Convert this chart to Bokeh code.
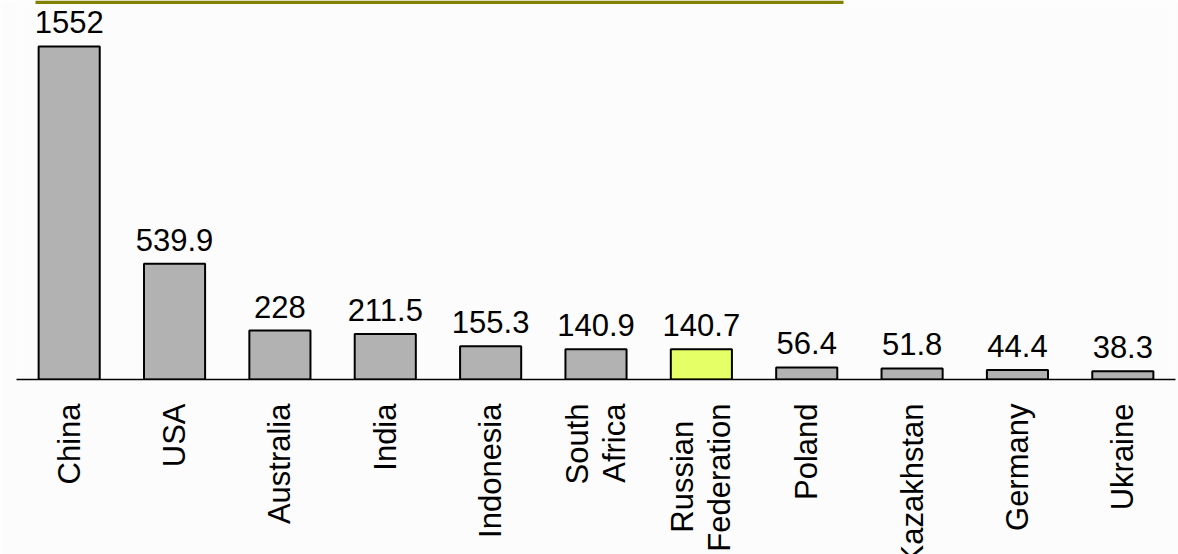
import math
from bokeh.plotting import figure
from bokeh.models import ColumnDataSource, FactorRange, Range1d, BoxAnnotation, LabelSet
from bokeh.embed import file_html
from bokeh.resources import INLINE
from bokeh.core.properties import value

# ---- data ----
NB = "\u00a0"
countries = ["China", "USA", "Australia", "India", "Indonesia", "South\nAfrica",
             "Russian" + NB * 2 + "\nFederation", "Poland", "Kazakhstan", "Germany", "Ukraine"]
production = [1552, 539.9, 228, 211.5, 155.3, 140.9, 140.7, 56.4, 51.8, 44.4, 38.3]
highlight_index = 6

GRAY = "#b2b2b2"
YELLOW = "#e5ff66"
FONT = "Liberation Sans"

src = ColumnDataSource(dict(
    country=countries,
    value=production,
    label=[f"{v:g}" for v in production],
    color=[YELLOW if i == highlight_index else GRAY for i in range(len(countries))],
))

p = figure(
    x_range=FactorRange(*countries, range_padding=0),
    y_range=Range1d(0, 1766),
    width=1178, frame_height=379,
    min_border_left=16, min_border_right=3, min_border_top=0, min_border_bottom=0,
    output_backend="svg", toolbar_location=None,
    background_fill_color="#fcfcfc", border_fill_color="#fcfcfc",
)
p.outline_line_color = None
p.xgrid.visible = False
p.ygrid.visible = False
p.yaxis.visible = False

p.vbar(x="country", top="value", width=0.58, source=src,
       fill_color="color", line_color="black", line_width=2)

p.add_layout(LabelSet(x="country", y="value", text="label", source=src,
                      text_align="center", text_baseline="alphabetic", y_offset=13,
                      text_font=value(FONT), text_font_size=value("31px"),
                      text_color="black"))

ax = p.xaxis[0]
ax.axis_line_color = "black"
ax.axis_line_width = 1.5
ax.major_tick_line_color = None
ax.minor_tick_line_color = None
ax.major_label_orientation = math.pi / 2
ax.major_label_standoff = 18
ax.major_label_text_font = FONT
ax.major_label_text_font_size = "31px"
ax.major_label_text_color = "black"
ax.major_label_text_line_height = 1.05

# olive rule at the top
p.add_layout(BoxAnnotation(left=35, right=843, top=0, bottom=3.5,
                           left_units="canvas", right_units="canvas",
                           top_units="canvas", bottom_units="canvas",
                           fill_color="#828200", fill_alpha=1, line_alpha=0))

open("out.html", "w").write(file_html(p, INLINE))
